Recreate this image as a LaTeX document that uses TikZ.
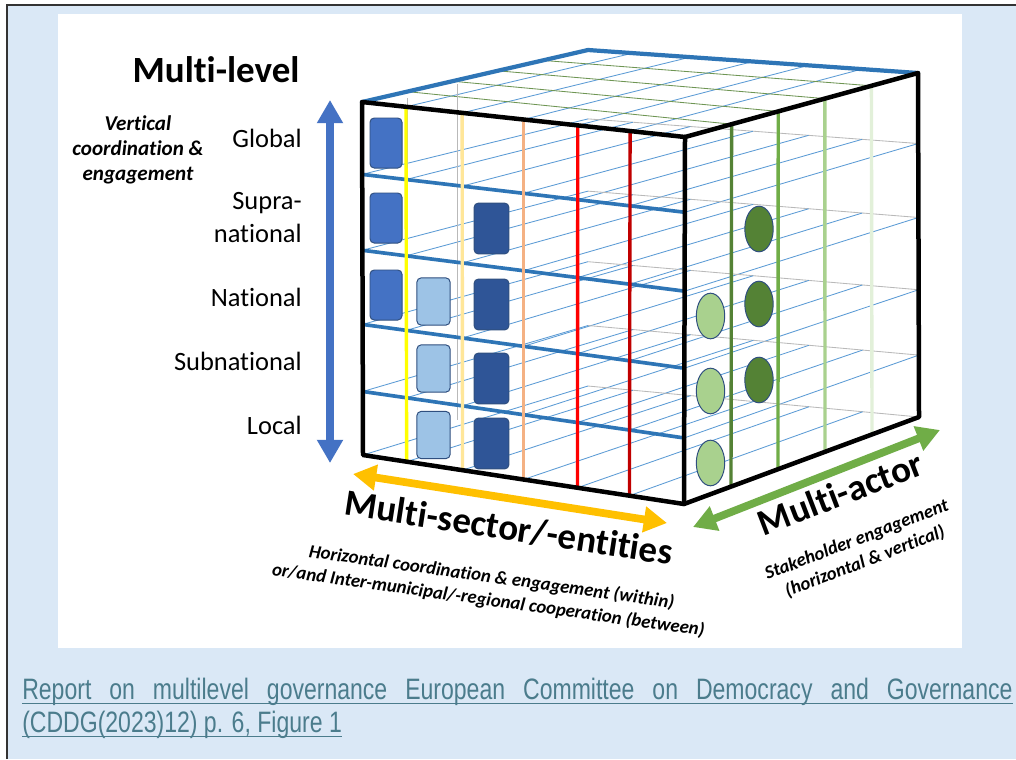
\documentclass[tikz,border=0pt]{standalone}
\usepackage{fontspec}
\setmainfont{Carlito}[Ligatures=NoCommon]
\newfontfamily\capfont[FakeStretch=0.78]{Liberation Sans}
\usetikzlibrary{arrows.meta,calc,shapes.geometric}
\definecolor{mlpage}{HTML}{DAE8F6}
\definecolor{mlcap}{HTML}{4B7C8C}
\definecolor{mlthick}{HTML}{2E75B6}
\definecolor{mlthin}{HTML}{5B9BD5}
\definecolor{mlarrow}{HTML}{4472C4}
\definecolor{mlboxline}{HTML}{2F4F7F}
\definecolor{boxA}{HTML}{4472C4}
\definecolor{boxB}{HTML}{9DC3E6}
\definecolor{boxC}{HTML}{2F5597}
\definecolor{secA}{HTML}{FFFF00}
\definecolor{secB}{HTML}{FFE699}
\definecolor{secC}{HTML}{F4B183}
\definecolor{secD}{HTML}{FF0000}
\definecolor{secE}{HTML}{C00000}
\definecolor{actA}{HTML}{548235}
\definecolor{actB}{HTML}{70AD47}
\definecolor{actC}{HTML}{A9D18E}
\definecolor{actD}{HTML}{E2F0D9}
\definecolor{sectorarrow}{HTML}{FFC000}
\tikzset{
  edge/.style={black,line width=3.2pt,line cap=round,line join=round},
  topedge/.style={mlthick,line width=3pt,line cap=round},
  level/.style={mlthick,line width=2.6pt},
  depthline/.style={mlthin,line width=0.6pt},
  backline/.style={gray!55,line width=0.6pt},
  topgrid/.style={actA!85,line width=0.6pt},
  sector/.style={line width=2.4pt},
  actor/.style={line width=2.4pt},
  govbox/.style={rounded corners=3pt,draw=mlboxline,line width=0.7pt,inner sep=0pt},
  actdot/.style={ellipse,draw=mlboxline,line width=0.7pt,inner sep=0pt,minimum width=0.71cm,minimum height=1.14cm},
  axis/.style={line width=5.5pt,{Triangle[length=0.58cm,width=0.62cm]}-{Triangle[length=0.58cm,width=0.62cm]}},
  lvl/.style={anchor=base east,inner sep=0pt,font=\fontsize{18.8}{22}\selectfont},
  bigtitle/.style={inner sep=0pt,font=\bfseries\fontsize{26.3}{30}\selectfont},
  subtitle/.style={align=center,inner sep=0pt,font=\bfseries\itshape\fontsize{13.3}{16.5}\selectfont},
  source/.style={anchor=base west,inner sep=0pt,text=mlcap,font=\capfont\fontsize{21}{24}\selectfont},
}
\begin{document}
\begin{tikzpicture}[x=0.025cm,y=-0.025cm]
  \useasboundingbox (0,0) rectangle (1016,759);
  % page, frame and white panel
  \fill[white] (0,0) rectangle (1016,759);
  \fill[mlpage] (7,5) rectangle (1016,759);
  \draw[black!80,line width=1.1pt] (7,759) -- (7,5) -- (1016,5);
  \fill[white] (58,14) rectangle (962,648);

  % cube corners
  \coordinate (FTL) at (362,102); \coordinate (FTR) at (685,137);
  \coordinate (FBL) at (363,455); \coordinate (FBR) at (684,504);
  \coordinate (BTL) at (588,50);  \coordinate (BTR) at (918,73);
  \coordinate (BBL) at (588,386); \coordinate (BBR) at (919,417);

  % see-through grid of the level planes
  \foreach \t [count=\i] in {0,.205,.42,.63,.82,1}{
    \coordinate (fl\i) at ($(FTL)!\t!(FBL)$);
    \coordinate (fr\i) at ($(FTR)!\t!(FBR)$);
    \coordinate (bl\i) at ($(BTL)!\t!(BBL)$);
    \coordinate (br\i) at ($(BTR)!\t!(BBR)$);
    \draw[backline] (bl\i) -- (br\i);
    \foreach \u in {0,.136,.31,.5,.668,.83,1}
      \draw[depthline] ($(fl\i)!\u!(fr\i)$) -- ($(bl\i)!\u!(br\i)$);
  }
  \foreach \w in {.2,.4,.6,.8}
    \draw[topgrid] ($(FTL)!\w!(BTL)$) -- ($(FTR)!\w!(BTR)$);
  \coordinate (gA1) at (407,98); \coordinate (gA2) at (407,437);
  \coordinate (gB1) at (457,84); \coordinate (gB2) at (457,420);
  \draw[backline] (gA1) -- (gA2) (gB1) -- (gB2);

  % levels, sectors and actors
  \foreach \i in {2,...,5} \draw[level] (fl\i) -- (fr\i);
  \foreach \u/\c in {.136/secA,.31/secB,.5/secC,.668/secD,.83/secE}
    \draw[sector,\c] ($(FTL)!\u!(FTR)$) -- ($(FBL)!\u!(FBR)$);
  \foreach \w/\c in {.2/actA,.4/actB,.6/actC,.8/actD}
    \draw[actor,\c] ($(FTR)!\w!(BTR)$) -- ($(FBR)!\w!(BBR)$);

  % edges
  \draw[topedge] (FTL) -- (BTL) -- (BTR);
  \draw[edge] (FTL) -- (FTR) -- (FBR) -- (FBL) -- cycle;
  \draw[edge] (FTR) -- (BTR) -- (BBR) -- (FBR);

  % boxes on the front face
  \foreach \y [count=\k] in {143,218,295}
    \node[govbox,fill=boxA,minimum width=0.8cm,minimum height=1.25cm] (ga\k) at (386,\y) {};
  \foreach \y [count=\k] in {301.5,368.5,435}
    \node[govbox,fill=boxB,minimum width=0.83cm,minimum height=1.18cm] (gb\k) at (433.5,\y) {};
  \foreach \y [count=\k] in {228.5,304.5,378.5,443.5}
    \node[govbox,fill=boxC,minimum width=0.87cm,minimum height=1.27cm] (gc\k) at (491.5,\y) {};
  % actors on the right face
  \foreach \y [count=\k] in {316,391,463}
    \node[actdot,fill=actC] (aa\k) at (710.5,\y) {};
  \foreach \y [count=\k] in {229,304,380}
    \node[actdot,fill=actA] (ab\k) at (759,\y) {};

  % axes
  \coordinate (vtop) at (330,100); \coordinate (vbot) at (330,463);
  \draw[axis,mlarrow] (vtop) -- (vbot);
  \coordinate (sleft) at (353,474); \coordinate (sright) at (667,523);
  \draw[axis,sectorarrow] (sleft) -- (sright);
  \coordinate (aleft) at (693,527); \coordinate (aright) at (940,430);
  \draw[axis,actB] (aleft) -- (aright);

  % labels
  \node[bigtitle,anchor=base] (mlevel) at (216,82) {Multi-level};
  \node[subtitle,font=\bfseries\itshape\fontsize{15}{18}\selectfont] (vsub) at (138,150) {Vertical\\coordination \&\\engagement};
  \node[lvl] (global) at (302,147) {Global};
  \node[lvl] (supra) at (302,209) {Supra-};
  \node[lvl] (supranat) at (302,242) {national};
  \node[lvl] (national) at (302,306) {National};
  \node[lvl] (subnat) at (302,370) {Subnational};
  \node[lvl] (local) at (302,434) {Local};

  \node[bigtitle,anchor=base,rotate=-8.7] (msector) at (507,540) {Multi-sector/-entities};
  \node[subtitle,rotate=-8] (ssub) at (490,589) {Horizontal coordination \& engagement (within)\\or/and Inter-municipal/-regional cooperation (between)};
  \node[bigtitle,anchor=base,rotate=21] (mactor) at (845,505) {Multi-actor};
  \node[subtitle,rotate=21] (asub) at (861,551) {Stakeholder engagement\\(horizontal \& vertical)};

  % source line
  \node[source] (cap1) at (22,699)
    {\makebox[24.75cm][s]{Report on multilevel governance European Committee on Democracy and Governance}};
  \node[source] (cap2) at (22,732) {(CDDG(2023)12) p. 6, Figure 1};
  \draw[mlcap,line width=0.9pt] ([yshift=-3pt]cap1.base west) -- ([yshift=-3pt]cap1.base east);
  \draw[mlcap,line width=0.9pt] ([yshift=-3pt]cap2.base west) -- ([yshift=-3pt]cap2.base east);
\end{tikzpicture}
\end{document}
